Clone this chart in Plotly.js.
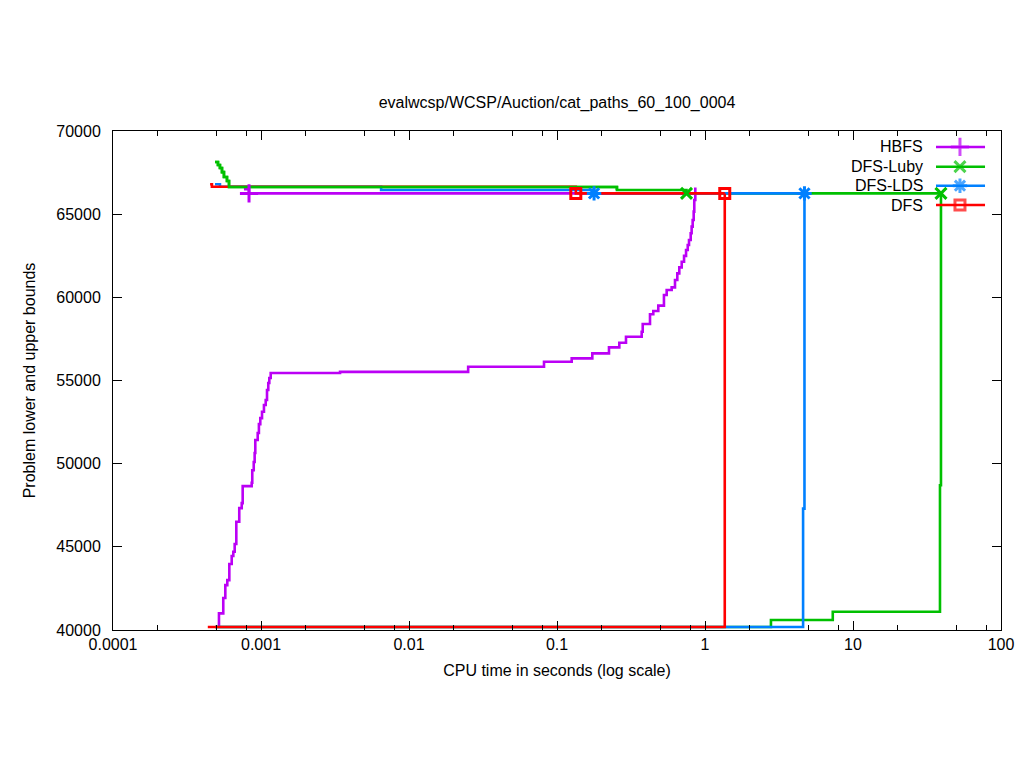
<!DOCTYPE html>
<html>
<head>
<meta charset="utf-8">
<script src="https://cdn.plot.ly/plotly-3.0.1.min.js"></script>
<style>html,body{margin:0;padding:0;background:#fff;}#chart{width:1024px;height:768px;}</style>
</head>
<body>
<div id="chart"></div>
<script>
// ---- data (CPU time in seconds, bound value) ----
const seriesNames = ["HBFS", "DFS-Luby", "DFS-LDS", "DFS"];

const hbfsLowerT = [0.00052, 0.00052, 0.000556, 0.000574, 0.000592, 0.000611, 0.000634, 0.00065, 0.000664, 0.000681, 0.000713, 0.000741, 0.000752, 0.000865, 0.000873, 0.000893, 0.000906, 0.000915, 0.00095, 0.000968, 0.000989, 0.001016, 0.001047, 0.001076, 0.001098, 0.00112, 0.001138, 0.001163, 0.00342, 0.0251, 0.0817, 0.1257, 0.1732, 0.2245, 0.2637, 0.2925, 0.3734, 0.3795, 0.425, 0.4474, 0.4835, 0.528, 0.5508, 0.5954, 0.627, 0.6501, 0.6703, 0.6961, 0.7218, 0.7447, 0.7644, 0.7798, 0.8004, 0.8123, 0.8254, 0.8387, 0.8464, 0.86];
const hbfsLowerV = [40180, 41000, 41920, 42700, 43000, 43970, 44450, 44700, 45170, 46510, 47330, 47630, 48650, 48850, 49600, 50100, 50640, 51420, 51840, 52380, 52740, 53120, 53530, 53830, 54430, 54850, 55150, 55450, 55520, 55830, 56130, 56330, 56630, 56990, 57270, 57630, 57930, 58400, 58980, 59180, 59500, 60140, 60440, 60600, 61040, 61440, 61800, 62140, 62490, 62850, 63150, 63450, 63850, 64250, 64650, 65150, 65850, 66600];
const hbfsUpperT = [0.000767, 0.00083, 0.86];
const hbfsUpperV = [66500, 66250, 66250];

const lubyUpperT = [0.000489, 0.000512, 0.000528, 0.000545, 0.000562, 0.000589, 0.000608, 0.254, 0.75, 39.3];
const lubyUpperV = [68140, 67960, 67780, 67530, 67230, 66990, 66630, 66450, 66250, 66250];
const lubyLowerT = [0.000489, 2.79, 7.3, 38.7, 39.3];
const lubyLowerV = [40180, 40600, 41100, 48700, 66250];

const ldsUpperT = [0.000489, 0.000528, 0.00648, 0.178, 4.7];
const ldsUpperV = [66800, 66650, 66450, 66250, 66250];
const ldsLowerT = [0.000489, 4.6, 4.7];
const ldsLowerV = [40180, 47300, 66250];

const dfsUpperT = [0.000453, 0.000466, 0.134, 1.36];
const dfsUpperV = [66800, 66650, 66250, 66250];
const dfsLowerT = [0.000437, 1.36];
const dfsLowerV = [40180, 66250];

// points where the plot shows a symbol (indices into the upper-bound arrays)
const hbfsMarkIdx = [1];
const lubyMarkIdx = [8, 9];
const ldsMarkIdx = [3, 4];
const dfsMarkIdx = [2, 3];

const xTickVals = [0.0001, 0.001, 0.01, 0.1, 1, 10, 100];
const xTickText = ["0.0001", "0.001", "0.01", "0.1", "1", "10", "100"];
const yTickVals = [40000, 45000, 50000, 55000, 60000, 65000, 70000];
const yTickText = ["40000", "45000", "50000", "55000", "60000", "65000", "70000"];

// ---- styles ----
const colors = {HBFS: "#bb00f5", "DFS-Luby": "#00c000", "DFS-LDS": "#0080ff", DFS: "#ff0000"};
const symbols = {HBFS: "cross-thin-open", "DFS-Luby": "x-thin-open", "DFS-LDS": "asterisk-open", DFS: "square-open"};
const msize = {HBFS: 13, "DFS-Luby": 11, "DFS-LDS": 12, DFS: 10};
const LW = 2.6;
const MLW = 3;
const FONT = "Liberation Sans, Arial, sans-serif";

function stepLine(x, y, name) {
  return {x: x, y: y, type: "scatter", mode: "lines", line: {shape: "hv", color: colors[name], width: LW},
          showlegend: false, hoverinfo: "skip"};
}
function marks(x, y, idx, name) {
  return {x: idx.map(i => x[i]), y: idx.map(i => y[i]), type: "scatter", mode: "markers",
          marker: {symbol: symbols[name], size: msize[name], color: colors[name],
                   line: {color: colors[name], width: MLW}},
          showlegend: false, hoverinfo: "skip"};
}
const earlyCut = 0.3;
const lubyEarlyT = lubyUpperT.filter(t => t <= earlyCut);
const lubyEarlyV = lubyUpperV.slice(0, lubyEarlyT.length);

const traces = [
  stepLine(lubyUpperT, lubyUpperV, "DFS-Luby"),
  stepLine(hbfsLowerT, hbfsLowerV, "HBFS"),
  stepLine(hbfsUpperT, hbfsUpperV, "HBFS"),
  stepLine(ldsUpperT, ldsUpperV, "DFS-LDS"),
  stepLine(dfsUpperT, dfsUpperV, "DFS"),
  stepLine(lubyEarlyT, lubyEarlyV, "DFS-Luby"),
  stepLine(lubyLowerT, lubyLowerV, "DFS-Luby"),
  stepLine(ldsLowerT, ldsLowerV, "DFS-LDS"),
  stepLine(dfsLowerT, dfsLowerV, "DFS"),
  marks(hbfsUpperT, hbfsUpperV, hbfsMarkIdx, "HBFS"),
  marks(lubyUpperT, lubyUpperV, lubyMarkIdx, "DFS-Luby"),
  marks(ldsUpperT, ldsUpperV, ldsMarkIdx, "DFS-LDS"),
  marks(dfsUpperT, dfsUpperV, dfsMarkIdx, "DFS")
];

// ---- gnuplot-style key (top right, text left of sample) ----
const keyX0 = 0.9268, keyX1 = 0.982, keyXm = 0.9538, keyTextX = 0.9144;
const keyY = [0.968, 0.9285, 0.8904, 0.8517];
const annotations = [];
seriesNames.forEach((n, i) => {
  traces.push({x: [keyX0, keyXm, keyX1], y: [keyY[i], keyY[i], keyY[i]], xaxis: "x2", yaxis: "y2",
    type: "scatter", mode: "lines+markers", line: {color: colors[n], width: LW},
    marker: {symbol: symbols[n], size: [0, msize[n], 0], color: colors[n], line: {color: colors[n], width: MLW}},
    showlegend: false, hoverinfo: "skip"});
  annotations.push({xref: "paper", yref: "paper", x: keyTextX, y: keyY[i], xanchor: "right", yanchor: "middle",
    text: n, showarrow: false, font: {family: FONT, size: 16, color: "#000"}});
});

const minorVals = [];
[-4, -3, -2, -1, 0, 1].forEach(e => [2, 5, 8].forEach(m => minorVals.push(m * Math.pow(10, e))));

const layout = {
  width: 1024, height: 768,
  margin: {l: 113, r: 23, t: 131, b: 138, pad: 0},
  paper_bgcolor: "#fff", plot_bgcolor: "#fff",
  font: {family: FONT, size: 16, color: "#000"},
  showlegend: false,
  title: {text: "evalwcsp/WCSP/Auction/cat_paths_60_100_0004", x: 0.5, xref: "paper", y: 1 - 102 / 768, yanchor: "middle",
          font: {family: FONT, size: 16, color: "#000"}},
  xaxis: {type: "log", range: [-4, 2], tickvals: xTickVals, ticktext: xTickText,
          ticks: "inside", ticklen: 9, tickwidth: 1, tickcolor: "#000",
          showline: true, linecolor: "#000", linewidth: 1, mirror: "ticks",
          showgrid: false, zeroline: false,
          minor: {tickvals: minorVals, ticks: "inside", ticklen: 5, tickcolor: "#000", tickwidth: 1, showgrid: false},
          tickfont: {family: FONT, size: 16, color: "#000"},
          title: {text: "CPU time in seconds (log scale)", standoff: 12, font: {family: FONT, size: 16, color: "#000"}}},
  yaxis: {range: [40000, 70000], tickvals: yTickVals, ticktext: yTickText,
          ticks: "inside", ticklen: 9, tickwidth: 1, tickcolor: "#000",
          showline: true, linecolor: "#000", linewidth: 1, mirror: "ticks",
          showgrid: false, zeroline: false, ticklabelstandoff: 8,
          tickfont: {family: FONT, size: 16, color: "#000"},
          title: {text: "Problem lower and upper bounds", standoff: 16, font: {family: FONT, size: 16, color: "#000"}}},
  xaxis2: {overlaying: "x", range: [0, 1], visible: false, fixedrange: true},
  yaxis2: {overlaying: "y", range: [0, 1], visible: false, fixedrange: true},
  annotations: annotations
};

Plotly.newPlot("chart", traces, layout, {staticPlot: true, displayModeBar: false});
</script>
</body>
</html>
